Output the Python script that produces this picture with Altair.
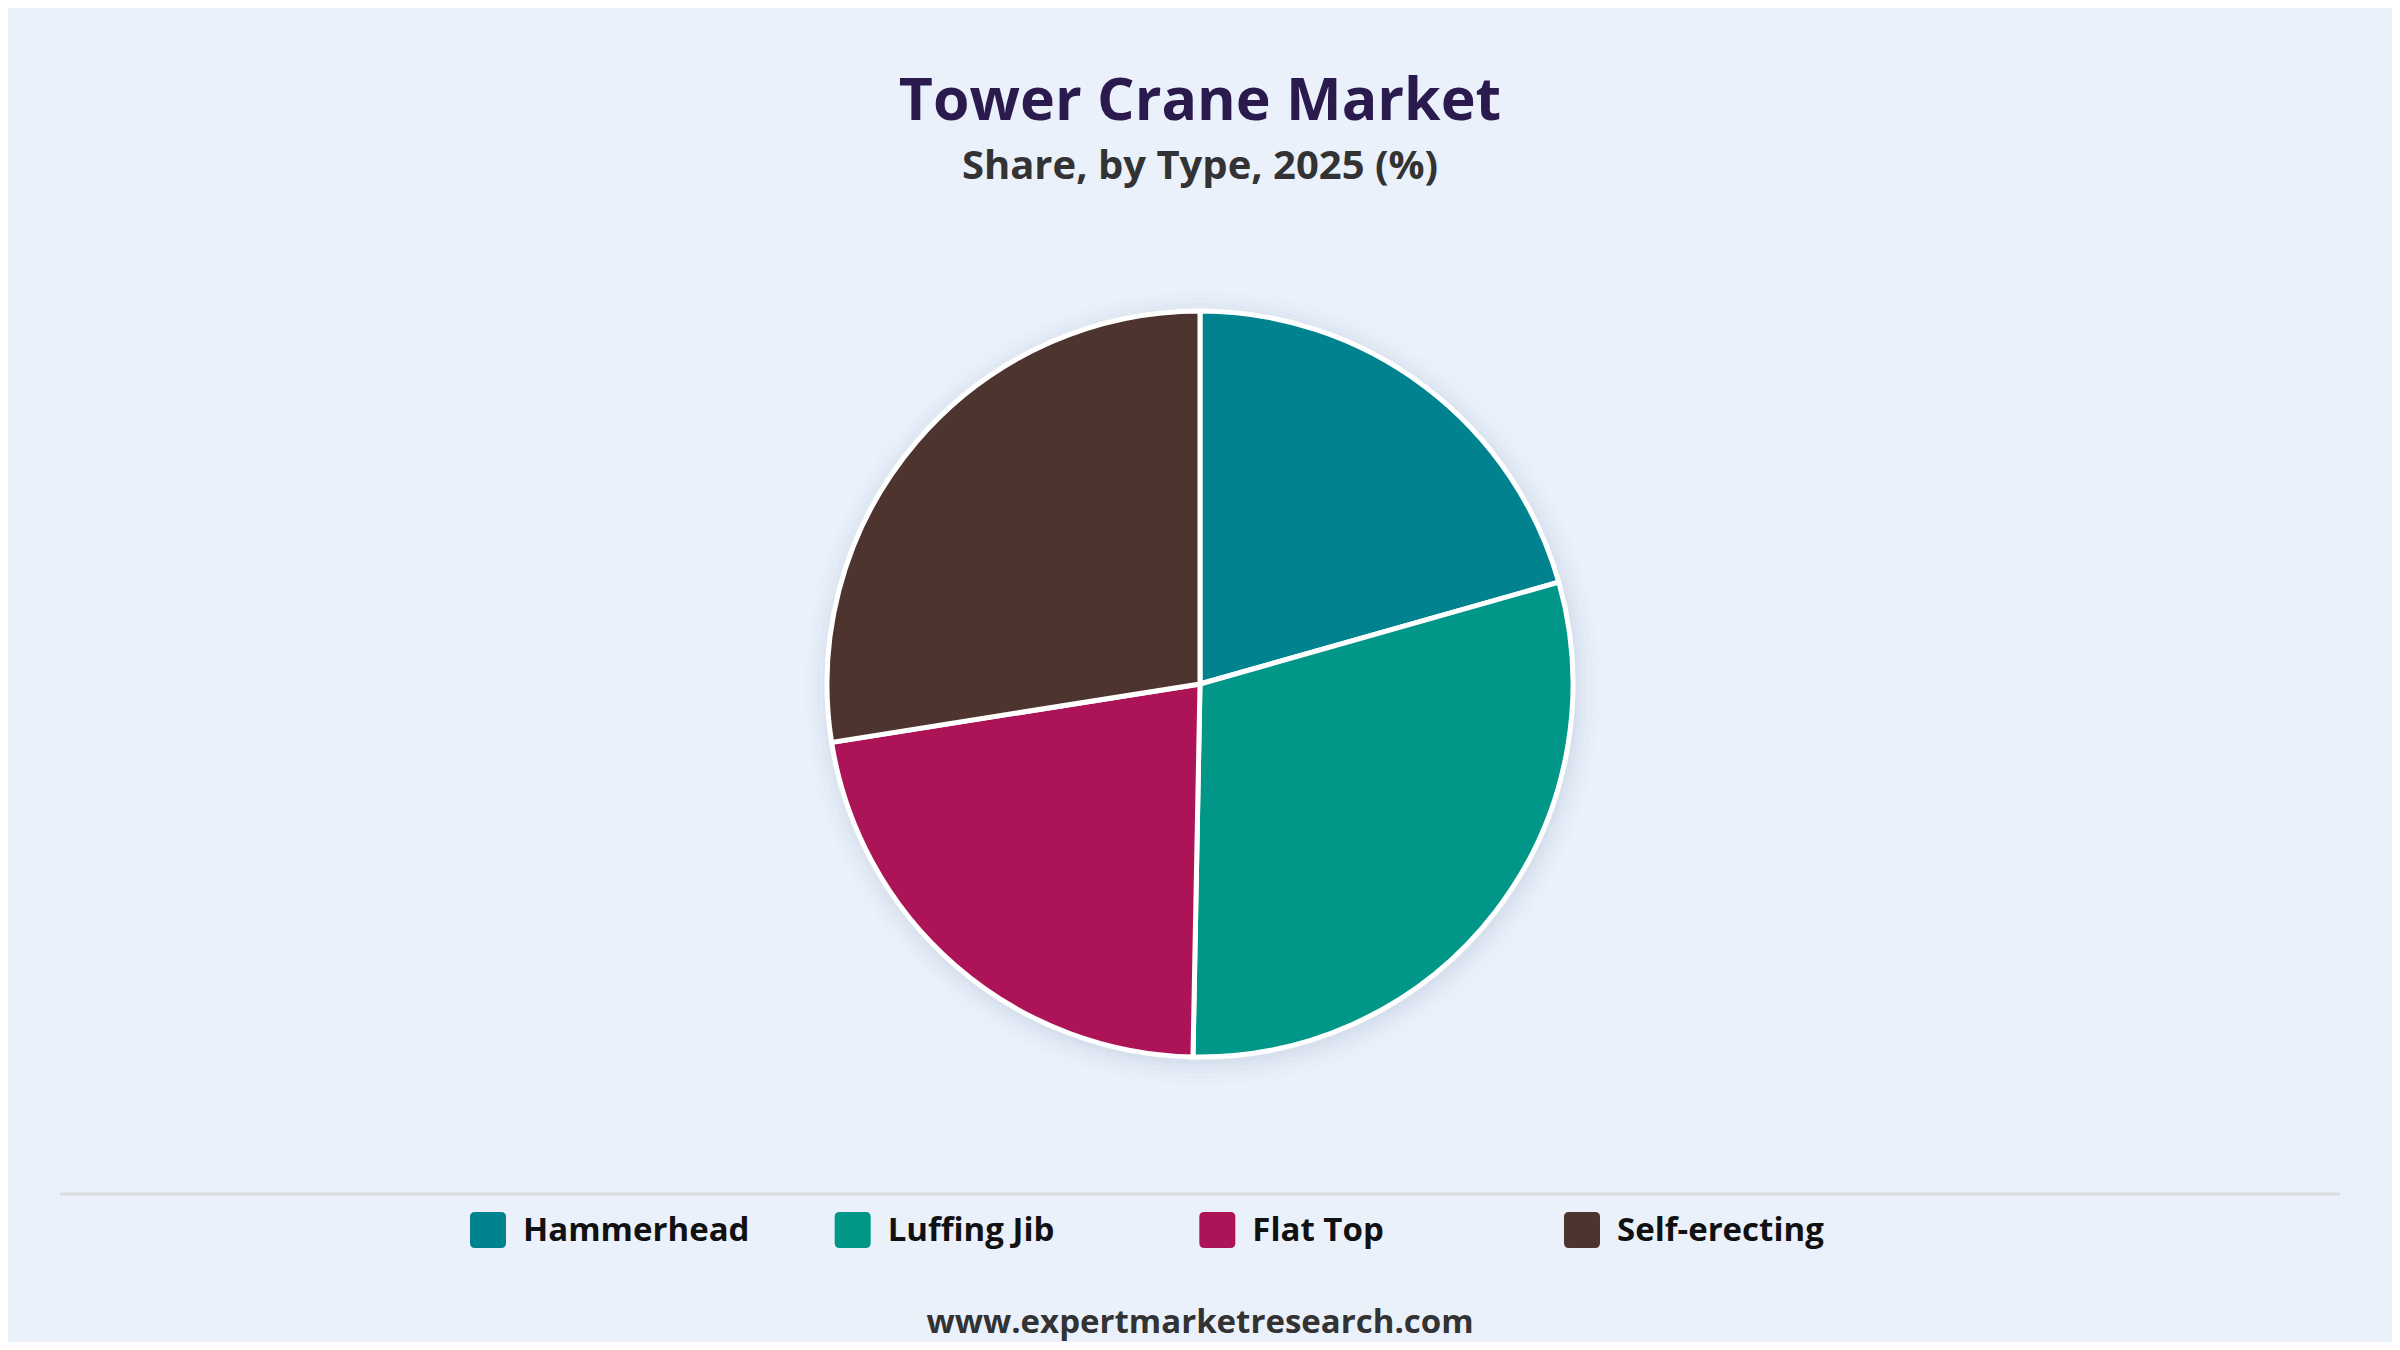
import altair as alt
import pandas as pd

# Data
types = ["Hammerhead", "Luffing Jib", "Flat Top", "Self-erecting"]
shares = [20.6, 29.7, 22.2, 27.5]
colors = ["#00838F", "#009688", "#AD1457", "#4E342E"]

title_text = "Tower Crane Market"
subtitle_text = "Share, by Type, 2025 (%)"
footer_text = "www.expertmarketresearch.com"

FONT = "Open Sans"
BG = "#EAF1FB"
W, H = 2384, 1334
CX, CY, R = 1192, 676, 373

df = pd.DataFrame({"type": types, "share": shares, "idx": list(range(len(types)))})

color_enc = alt.Color("type:N", scale=alt.Scale(domain=types, range=colors), legend=None)

# soft shadow around the pie
one = pd.DataFrame({"k": [0]})
shadow_layers = []
for r_extra, op in [(24, 0.025), (18, 0.03), (12, 0.035), (7, 0.04), (3, 0.05)]:
    shadow_layers.append(
        alt.Chart(one).mark_arc(
            radius=R + r_extra, theta=0, theta2=6.2832, fill="#8a9bb5",
            opacity=op, stroke=None
        ).encode(x=alt.value(CX + 2), y=alt.value(CY + 4))
    )

pie = alt.Chart(df).mark_arc(outerRadius=R, stroke="white", strokeWidth=5).encode(
    theta=alt.Theta("share:Q", stack=True),
    color=color_enc,
    order=alt.Order("idx:Q"),
    x=alt.value(CX),
    y=alt.value(CY),
)

title = alt.Chart(pd.DataFrame({"t": [title_text]})).mark_text(
    font=FONT, fontSize=59, fontWeight="bold", color="#2A1A4E",
    align="center", baseline="alphabetic"
).encode(text="t:N", x=alt.value(1192), y=alt.value(112))

subtitle = alt.Chart(pd.DataFrame({"t": [subtitle_text]})).mark_text(
    font=FONT, fontSize=40, fontWeight="bold", color="#333333",
    align="center", baseline="alphabetic"
).encode(text="t:N", x=alt.value(1192), y=alt.value(171))

footer = alt.Chart(pd.DataFrame({"t": [footer_text]})).mark_text(
    font=FONT, fontSize=33, fontWeight="bold", color="#333333",
    align="center", baseline="alphabetic"
).encode(text="t:N", x=alt.value(1192), y=alt.value(1325))

sep = alt.Chart(one).mark_rule(color="#DADCE0", strokeWidth=3).encode(
    x=alt.value(52), x2=alt.value(2332), y=alt.value(1186)
)

rounded_sq = ("M-1,-0.72 Q-1,-1 -0.72,-1 L0.72,-1 Q1,-1 1,-0.72 L1,0.72 "
              "Q1,1 0.72,1 L-0.72,1 Q-1,1 -1,0.72 Z")

legend_x = alt.X("idx:Q", scale=alt.Scale(domain=[0, 3], range=[480, 1574]), axis=None)

leg_sym = alt.Chart(df).mark_point(
    shape=rounded_sq, size=1296, filled=True, opacity=1, strokeWidth=0
).encode(x=legend_x, y=alt.value(1222), color=color_enc)

leg_txt = alt.Chart(df).mark_text(
    font=FONT, fontSize=33, fontWeight="bold", color="#111111",
    align="left", baseline="middle", dx=35, dy=1
).encode(x=legend_x, y=alt.value(1222), text="type:N")

chart = alt.layer(
    *shadow_layers, pie, title, subtitle, sep, leg_sym, leg_txt, footer
).properties(
    width=W, height=H, background=BG, padding=0, autosize="none"
).configure_view(stroke=None)

chart.save("out.html", embed_options={"renderer": "svg", "actions": False})
